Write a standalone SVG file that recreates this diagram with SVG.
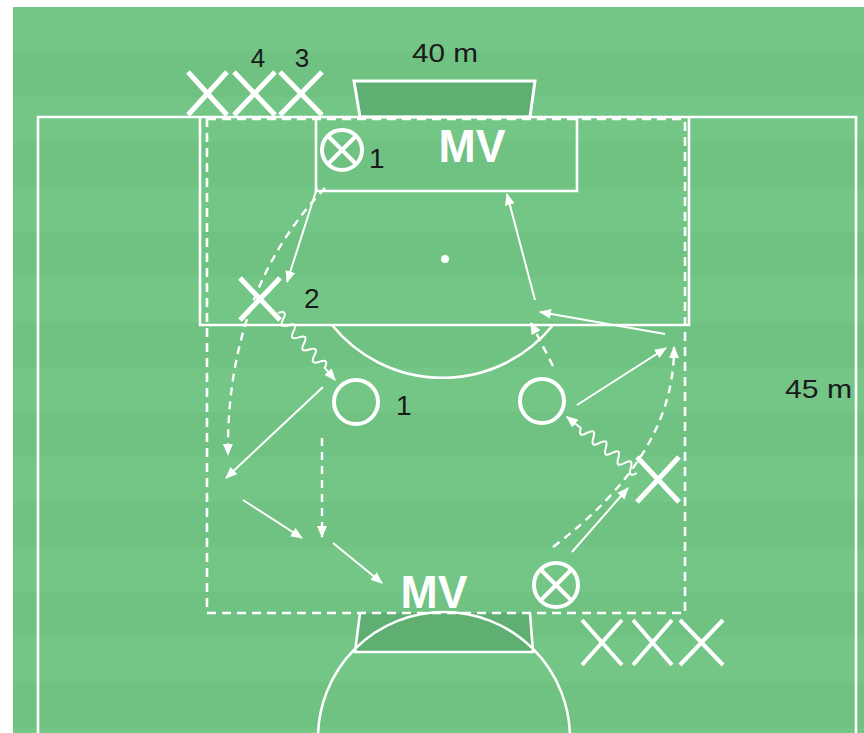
<svg xmlns="http://www.w3.org/2000/svg" width="864" height="733" viewBox="0 0 864 733">
<defs>
<marker id="ah" viewBox="0 0 12 10" refX="11" refY="5" markerWidth="12" markerHeight="10" markerUnits="userSpaceOnUse" orient="auto"><path d="M0,0 L12,5 L0,10 z" fill="#fff"/></marker>
<style>
.fl{fill:none;stroke:#fff;stroke-width:2.6}
.dr{fill:none;stroke:#fff;stroke-width:2.6;stroke-dasharray:9 6}
.goal{fill:#5fae72;stroke:#fff;stroke-width:3}
.x{stroke:#fff;stroke-width:5;stroke-linecap:butt;fill:none}
.c{fill:none;stroke:#fff;stroke-width:4}
.sl{fill:none;stroke:#fff;stroke-width:2;marker-end:url(#ah)}
.ds{fill:none;stroke:#fff;stroke-width:2.4;stroke-dasharray:8 6;marker-end:url(#ah)}
.wv{fill:none;stroke:#fff;stroke-width:2;marker-end:url(#ah)}
.t{font-family:"Liberation Sans",Arial,sans-serif;fill:#1a1a1a}
.mv{font-family:"Liberation Sans",Arial,sans-serif;font-weight:bold;fill:#fff;font-size:46px}
</style>
</defs>
<rect x="0" y="0" width="864" height="733" fill="#fff"/>
<g id="pitch">
<rect x="13" y="7" width="851" height="726" fill="#74c687"/>
<rect x="13" y="52" width="851" height="45" fill="#70c283"/>
<rect x="13" y="142" width="851" height="45" fill="#70c283"/>
<rect x="13" y="232" width="851" height="45" fill="#70c283"/>
<rect x="13" y="322" width="851" height="45" fill="#70c283"/>
<rect x="13" y="412" width="851" height="45" fill="#70c283"/>
<rect x="13" y="502" width="851" height="45" fill="#70c283"/>
<rect x="13" y="592" width="851" height="45" fill="#70c283"/>
<rect x="13" y="682" width="851" height="45" fill="#70c283"/>
<path class="goal" d="M354 81 L535 81 L530 117 L360 117 Z"/>
<path class="goal" d="M360 613 L530 613 L533 652 L355 652 Z" style="stroke:none"/>
<path class="fl" d="M360 613 L355 652 L533 652 L530 613"/>
<path class="fl" d="M38 733 L38 117 L856 117 L856 733"/>
<path class="fl" d="M200 117 L200 325 L689 325 L689 117"/>
<path class="fl" d="M316 117 L316 191 L577 191 L577 117"/>
<path class="fl" d="M332 325 A142 142 0 0 0 553 325"/>
<circle class="fl" cx="444" cy="738" r="126"/>
<circle cx="445" cy="259" r="4" fill="#fff"/>
<path class="dr" d="M207 118 L207 613 L685 613 L685 118"/>
<path class="dr" d="M207 119 L685 119"/>
</g>
<g id="connectors">
<path class="sl" d="M317 188 L287 282"/>
<path class="ds" d="M325 188 Q226 292 228 455"/>
<path class="wv" transform="translate(278,313) rotate(49.6)" d="M0 0 q4 -10 8 0 t8 0 t8 0 t8 0 t8 0 t8 0 t8 0 t8 0 t8 0 L88 0"/>
<path class="sl" d="M323 387 L226 478"/>
<path class="sl" d="M243 500 L302 538"/>
<path class="ds" d="M322 438 L322 537"/>
<path class="sl" d="M333 543 L382 583"/>
<path class="ds" d="M553 547 Q675 455 674 347"/>
<path class="sl" d="M572 552 L628 488"/>
<path class="wv" transform="translate(637,473) rotate(218.7)" d="M0 0 q4 -10 8 0 t8 0 t8 0 t8 0 t8 0 t8 0 t8 0 t8 0 t8 0 L90 0"/>
<path class="sl" d="M577 405 L666 348"/>
<path class="ds" d="M553 366 L531 323"/>
<path class="sl" d="M665 334 L540 312"/>
<path class="sl" d="M535 300 L507 194"/>
</g>
<g id="labels">
<text class="t" x="445" y="62" font-size="26" text-anchor="middle" textLength="66" lengthAdjust="spacingAndGlyphs">40 m</text>
<text class="t" x="258" y="67" font-size="26" text-anchor="middle">4</text>
<text class="t" x="302" y="67" font-size="26" text-anchor="middle">3</text>
<text class="t" x="785" y="398" font-size="25" textLength="67" lengthAdjust="spacingAndGlyphs">45 m</text>
</g>
<g id="defenders-top">
<path class="x" d="M188 72 L227 115 M227 72 L188 115"/>
<path class="x" d="M234 72 L275 115 M275 72 L234 115"/>
<path class="x" d="M280 72 L322 115 M322 72 L280 115"/>
</g>
<g id="goalkeeper-top">
<text class="mv" x="472" y="162" text-anchor="middle" textLength="67" lengthAdjust="spacingAndGlyphs">MV</text>
</g>
<g id="player-top-1">
<circle class="c" cx="342" cy="150" r="20"/>
<path class="x" style="stroke-width:4" d="M328 136 L356 164 M356 136 L328 164"/>
<text class="t" x="369" y="168" font-size="28">1</text>
</g>
<g id="player-2">
<path class="x" d="M240 278 L280 320 M280 278 L240 320"/>
<text class="t" x="304" y="308" font-size="28">2</text>
</g>
<g id="player-circle-1">
<circle class="c" cx="356" cy="402" r="22"/>
<text class="t" x="396" y="415" font-size="28">1</text>
</g>
<g id="player-circle-right">
<circle class="c" cx="542" cy="401" r="22"/>
</g>
<g id="player-x-right">
<path class="x" d="M637 457 L679 502 M679 457 L637 502"/>
</g>
<g id="goalkeeper-bottom">
<text class="mv" x="434" y="608" text-anchor="middle" textLength="67" lengthAdjust="spacingAndGlyphs">MV</text>
</g>
<g id="player-bottom">
<circle class="c" cx="556" cy="585" r="22"/>
<path class="x" style="stroke-width:4" d="M541 570 L571 600 M571 570 L541 600"/>
</g>
<g id="defenders-bottom">
<path class="x" style="stroke-width:4" d="M582 620 L622 665 M622 620 L582 665"/>
<path class="x" style="stroke-width:4" d="M633 620 L672 665 M672 620 L633 665"/>
<path class="x" style="stroke-width:4" d="M680 620 L723 665 M723 620 L680 665"/>
</g>
</svg>
